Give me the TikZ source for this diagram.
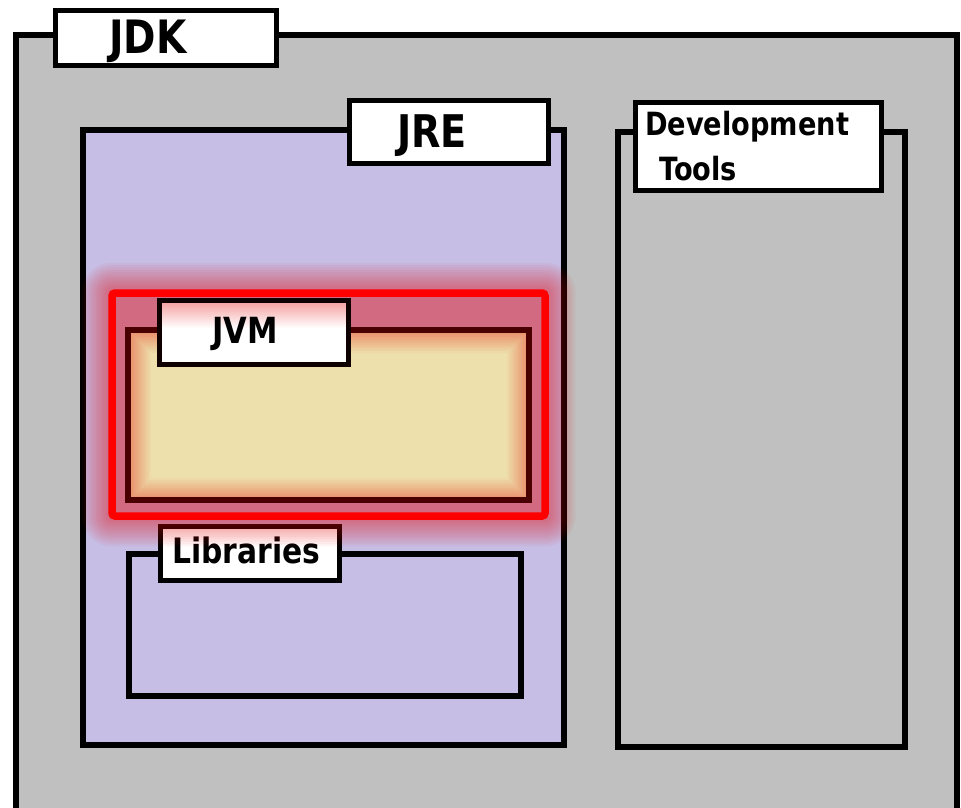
\documentclass[tikz,border=0pt]{standalone}
\usepackage{fontspec}
\setmainfont{DejaVu Sans}[FakeStretch=0.85]
\definecolor{jdkgray}{HTML}{C0C0C0}
\definecolor{jrelav}{HTML}{C6BEE5}
\definecolor{jvmfill}{HTML}{EDE0AC}
\definecolor{jvmedge}{HTML}{EA9670}
\definecolor{jvmline}{HTML}{4A0000}
\definecolor{tagpink}{HTML}{F49A9A}
\definecolor{glowred}{HTML}{F00000}
\begin{document}
\begin{tikzpicture}[x=1pt,y=-1pt,
  box/.style={draw=black,line width=6pt},
  tag/.style={draw=black,fill=white,line width=5pt},
  lbl/.style={anchor=base west,inner sep=0pt,text=black,font=\bfseries}]
\useasboundingbox[fill=white] (0,0) rectangle (961,807);

% JDK container (its bottom edge runs off the page)
\path[box,fill=jdkgray] (16,35) rectangle (957,830);
\path[tag] (55.5,10) rectangle (276.5,65.5);
\node[lbl] (jdk) at (109,53) {\fontsize{46}{50}\selectfont JDK};

% JRE container
\path[box,fill=jrelav] (83,130) rectangle (564,745);
\path[tag] (349,100) rectangle (548,163);
\node[lbl] (jre) at (397,147) {\fontsize{45}{48}\selectfont JRE};

% Development tools container
\path[box,fill=jdkgray] (618,132) rectangle (905,747);
\path[tag] (635,102) rectangle (881,190);
\node[lbl] (dev) at (645,135) {\fontsize{32}{34}\selectfont Development};
\node[lbl] (tools) at (659,180) {\fontsize{32}{34}\selectfont Tools};

% Libraries container
\path[box,line width=5.5pt,fill=jrelav] (129,554) rectangle (521,696);
\path[tag] (160,526) rectangle (339,580);
\node[lbl] (lib) at (172,563) {\fontsize{35}{38}\selectfont Libraries};

% red halo around the JVM frame
\foreach \k in {0,...,11}{
  \pgfmathsetmacro\e{4+\k*2.4}
  \fill[glowred,opacity=0.045,rounded corners=\e pt]
    (112-\e,293-\e) rectangle (545+\e,516+\e);
}
\draw[red,line width=7.5pt,rounded corners=3pt] (112,293) rectangle (545,516);

% JVM container with a warm inner glow
\foreach \k in {0,...,10}{
  \pgfmathtruncatemacro\p{\k*10}
  \pgfmathsetmacro\e{2.5+\k*2}
  \fill[jvmfill!\p!jvmedge] (128+\e,330+\e) rectangle (529-\e,500-\e);
}
\draw[jvmline,line width=5.5pt] (128,330) rectangle (529,500);
\fill[white] (159,300) rectangle (348,364);
\shade[top color=tagpink,bottom color=white] (159,300) rectangle (348,328);
\draw[black!80!jvmline,line width=5pt] (159,300) rectangle (348,364);
\node[lbl] (jvm) at (212,343) {\fontsize{36}{38}\selectfont JVM};
\end{tikzpicture}
\end{document}
